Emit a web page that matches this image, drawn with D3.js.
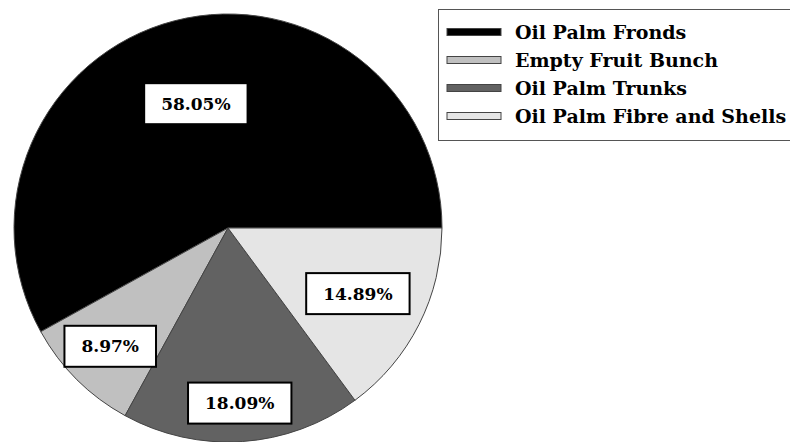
<!DOCTYPE html>
<html>
<head>
<meta charset="utf-8">
<script src="https://cdn.jsdelivr.net/npm/d3@7"></script>
<style>
  body { margin: 0; background: #fff; }
</style>
</head>
<body>
<div id="chart"></div>
<script>
// residue shares
const categories = ["Oil Palm Fronds", "Empty Fruit Bunch", "Oil Palm Trunks", "Oil Palm Fibre and Shells"];
const shares = [58.05, 8.97, 18.09, 14.89];
const fills = ["#000000", "#c0c0c0", "#626262", "#e5e5e5"];
// how far out each label box sits, as a fraction of the radius
const labelR = [0.6, 0.78, 0.82, 0.68];

const width = 790, height = 442;
const cx = 228, cy = 228, radius = 214;
const serif = "'DejaVu Serif', serif";

const svg = d3.select("#chart")
    .append("svg")
    .attr("width", width)
    .attr("height", height)
    .attr("font-family", serif)
    .attr("font-weight", "bold");

const data = categories.map((c, i) => ({name: c, value: shares[i], fill: fills[i], lr: labelR[i]}));

// starts at 3 o'clock and runs counter-clockwise
const pie = d3.pie()
    .value(d => d.value)
    .sort(null)
    .startAngle(Math.PI / 2)
    .endAngle(Math.PI / 2 - 2 * Math.PI);

const arc = d3.arc().innerRadius(0).outerRadius(radius);

const g = svg.append("g")
    .attr("transform", `translate(${cx}, ${cy})`);

const arcs = pie(data);

g.selectAll("path")
    .data(arcs)
    .join("path")
    .attr("d", arc)
    .attr("fill", d => d.data.fill)
    .attr("stroke", "#444")
    .attr("stroke-width", 1);

// label boxes
const lab = g.selectAll(".lab")
    .data(arcs)
    .join("g")
    .attr("class", "lab")
    .attr("transform", d => {
        const a = d3.arc().innerRadius(0).outerRadius(2 * radius * d.data.lr);
        const [x, y] = a.centroid(d);
        return `translate(${x}, ${y})`;
    });

const labText = lab.append("text")
    .attr("text-anchor", "middle")
    .attr("dy", "0.36em")
    .attr("font-size", 17)
    .text(d => d3.format(".2f")(d.data.value) + "%");

labText.each(function() {
    const b = this.getBBox();
    d3.select(this.parentNode).insert("rect", "text")
        .attr("x", -b.width / 2 - 17)
        .attr("y", -20.5)
        .attr("width", b.width + 34)
        .attr("height", 41)
        .attr("fill", "#fff")
        .attr("stroke", "#000")
        .attr("stroke-width", 2);
});

// legend
const legend = svg.append("g");
legend.append("rect")
    .attr("x", 438.5)
    .attr("y", 9.5)
    .attr("width", 360)
    .attr("height", 131)
    .attr("fill", "#fff")
    .attr("stroke", "#555")
    .attr("stroke-width", 1);

const row = d3.scaleBand()
    .domain(categories)
    .range([18, 130]);

const item = legend.selectAll(".item")
    .data(data)
    .join("g")
    .attr("class", "item")
    .attr("transform", d => `translate(0, ${row(d.name) + row.bandwidth() / 2})`);

item.append("rect")
    .attr("x", 447)
    .attr("y", -3.5)
    .attr("width", 54)
    .attr("height", 7)
    .attr("fill", d => d.fill)
    .attr("stroke", "#444")
    .attr("stroke-width", 1);

item.append("text")
    .attr("x", 515)
    .attr("dy", "0.36em")
    .attr("font-size", 19)
    .text(d => d.name);
</script>
</body>
</html>
